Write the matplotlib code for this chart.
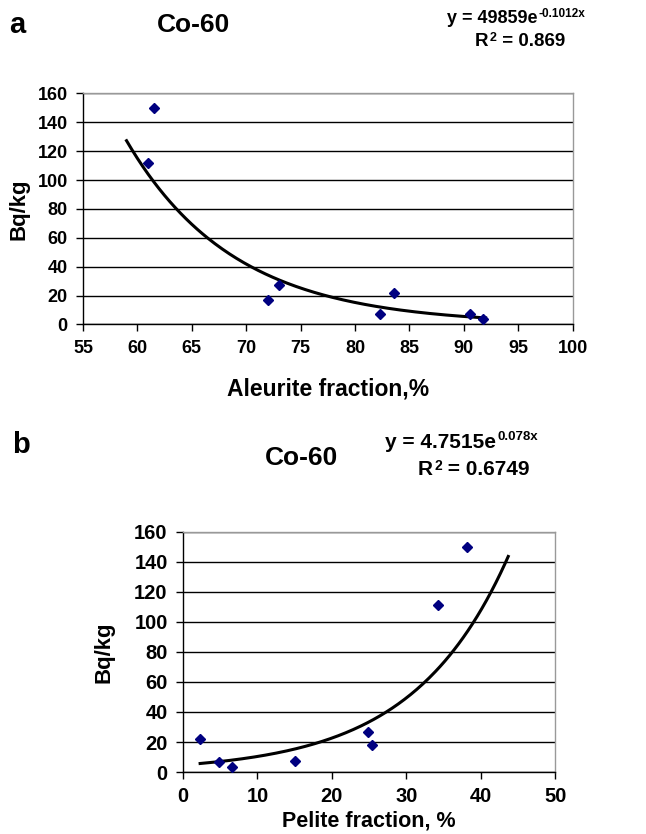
import matplotlib
matplotlib.use('Agg')
import matplotlib.pyplot as plt
import numpy as np

# panel a: Co-60 vs aleurite fraction
aleurite_x = [61.5, 61.0, 72.0, 73.0, 82.3, 83.6, 90.6, 91.8]
aleurite_y = [150, 112, 17, 27, 7, 22, 7, 3.5]
fit_a = (49859, -0.1012)  # y = a * exp(b x), as printed on the chart
fit_a_range = (59.0, 92.0)

# panel b: Co-60 vs pelite fraction
pelite_x = [2.3, 4.8, 6.6, 15.0, 24.9, 25.4, 34.3, 38.2]
pelite_y = [22, 7, 3.5, 7.5, 27, 18, 111, 150]
fit_b = (4.7515, 0.078)
fit_b_range = (2.3, 43.7)

plt.rcParams['font.family'] = ['Liberation Sans', 'DejaVu Sans']
plt.rcParams['font.weight'] = 'bold'

MARKER = '#000080'


def style_axes(ax, xlim, xstep, fontsize):
    ax.set_xlim(*xlim)
    ax.set_ylim(0, 160)
    ax.set_xticks(np.arange(xlim[0], xlim[1] + 0.1, xstep))
    ax.set_yticks(np.arange(0, 161, 20))
    ax.yaxis.grid(True, color='black', linewidth=1.0)
    ax.set_axisbelow(True)
    for side in ('top', 'right'):
        ax.spines[side].set_color('#999999')
        ax.spines[side].set_linewidth(1.0)
    for side in ('left', 'bottom'):
        ax.spines[side].set_color('black')
        ax.spines[side].set_linewidth(1.0)
    ax.tick_params(direction='out', length=5, width=1.0, labelsize=fontsize,
                   pad=6)
    for t in ax.get_xticklabels() + ax.get_yticklabels():
        t.set_fontweight('bold')


def draw_panel(ax, xs, ys, fit, frange):
    xx = np.linspace(frange[0], frange[1], 200)
    ax.plot(xx, fit[0] * np.exp(fit[1] * xx), color='black', linewidth=2.2,
            zorder=3)
    ax.plot(xs, ys, 'D', color=MARKER, markersize=5.5, zorder=4,
            clip_on=False)


def sup_text(ax, x, y, base, sup, rest, size, supsize):
    # text with a small raised part, e.g. y = 49859e^-0.1012x
    t = ax.text(x, y, base, transform=ax.figure.transFigure, fontsize=size,
                fontweight='bold', ha='left', va='center')
    s = ax.annotate(sup, xy=(1, 1), xycoords=t, xytext=(1, 1),
                    textcoords='offset points', fontsize=supsize,
                    fontweight='bold', ha='left', va='top')
    if rest:
        ax.annotate(rest, xy=(1, 0.5), xycoords=(s, t), fontsize=size,
                    fontweight='bold', ha='left', va='center')


fig = plt.figure(figsize=(6.46, 8.34), dpi=100)

# ---- panel a ----
ax1 = fig.add_axes([0.1285, 0.611, 0.758, 0.277])
draw_panel(ax1, aleurite_x, aleurite_y, fit_a, fit_a_range)
style_axes(ax1, (55, 100), 5, 13)
ax1.set_xlabel('Aleurite fraction,%', fontsize=16.5, fontweight='bold',
               labelpad=15)
ax1.set_ylabel('Bq/kg', fontsize=16, fontweight='bold', labelpad=6)

fig.text(0.014, 0.970, 'a', fontsize=21, fontweight='bold', va='center')
fig.text(0.299, 0.970, 'Co-60', fontsize=19, fontweight='bold', va='center',
         ha='center')
sup_text(ax1, 0.692, 0.978, 'y = 49859e', '-0.1012x', '', 13, 8.5)
sup_text(ax1, 0.735, 0.950, 'R', '2', ' = 0.869', 13.5, 9)

# ---- panel b ----
ax2 = fig.add_axes([0.2833, 0.0743, 0.576, 0.288])
draw_panel(ax2, pelite_x, pelite_y, fit_b, fit_b_range)
style_axes(ax2, (0, 50), 10, 14.5)
ax2.set_xlabel('Pelite fraction, %', fontsize=15.5, fontweight='bold',
               labelpad=3)
ax2.set_ylabel('Bq/kg', fontsize=16, fontweight='bold', labelpad=14)

fig.text(0.018, 0.466, 'b', fontsize=21, fontweight='bold', va='center')
fig.text(0.467, 0.451, 'Co-60', fontsize=19, fontweight='bold', va='center',
         ha='center')
sup_text(ax2, 0.596, 0.470, 'y = 4.7515e', '0.078x', '', 15, 9.5)
sup_text(ax2, 0.647, 0.437, 'R', '2', ' = 0.6749', 15, 10)

fig.savefig('out.png', dpi=100)
